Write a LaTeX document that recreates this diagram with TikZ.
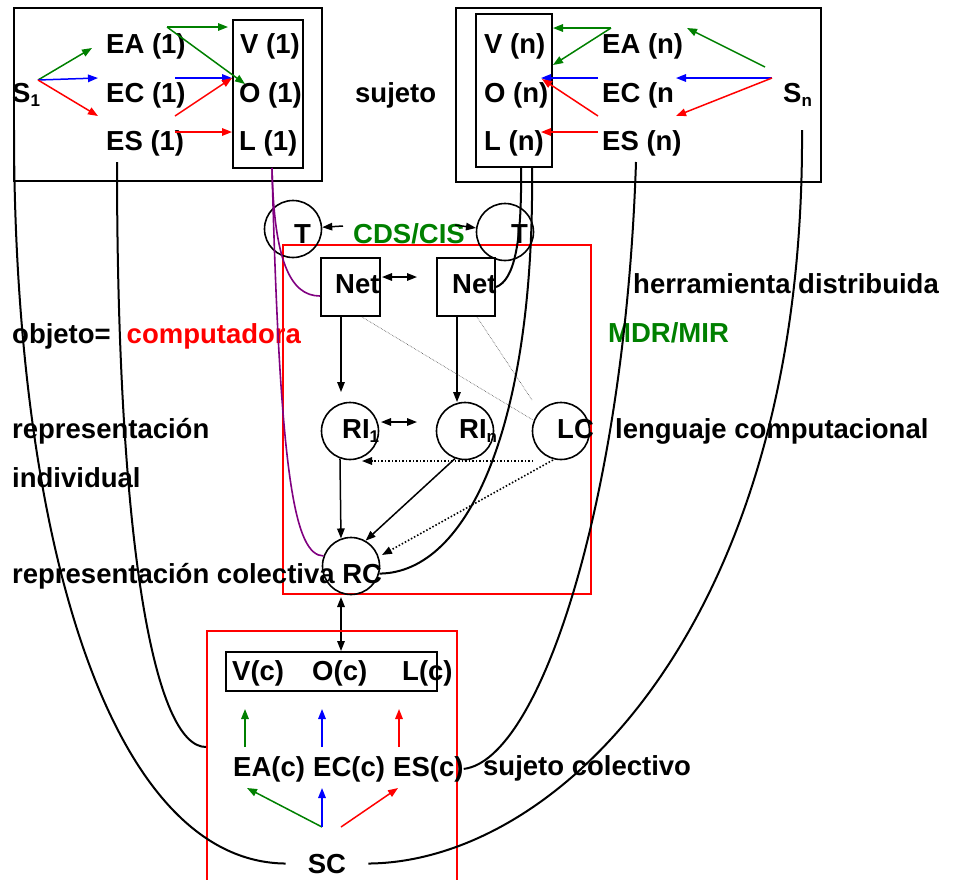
\documentclass[tikz,border=0pt]{standalone}
\usepackage{fontspec}
\setmainfont{Liberation Sans}
\usetikzlibrary{arrows.meta}
\definecolor{vgreen}{RGB}{0,128,0}
\definecolor{vpurple}{RGB}{128,0,128}
\newcommand{\lowidx}[1]{\raisebox{-4pt}{\fontsize{17}{17}\selectfont #1}}

\begin{document}
\begin{tikzpicture}[x=1pt,y=-1pt,
  txt/.style={font=\bfseries\fontsize{27.5}{30}\selectfont,inner sep=0pt,anchor=base west},
  box/.style={draw,line width=2pt,inner sep=0pt},
  rbox/.style={draw=red,line width=2.6pt},
  ring/.style={circle,draw,line width=1.6pt,minimum size=57pt,inner sep=0pt},
  a/.style={-{Triangle[length=10pt,width=7.5pt]},line width=1.5pt},
  aa/.style={{Triangle[length=10pt,width=7.5pt]}-{Triangle[length=10pt,width=7.5pt]},line width=1.6pt},
  da/.style={a,dotted,line width=1.6pt},
  hint/.style={densely dotted,line width=0.6pt,black!70},
  link/.style={line width=2pt},
  plink/.style={line width=1.6pt,vpurple}
]
\useasboundingbox (0,0) rectangle (953,879);

% subject 1
\node[box,minimum width=308pt,minimum height=173pt] (subj1) at (168,94.5) {};
\node[box,minimum width=70pt,minimum height=148pt] (vol1) at (268,94) {};
\node[txt] (s1) at (12,102) {S\lowidx{1}};
\node[txt] (ea1) at (106,53) {EA (1)};
\node[txt] (ec1) at (106,102) {EC (1)};
\node[txt] (es1) at (106,150) {ES (1)};
\node[txt] (v1) at (240,53) {V (1)};
\node[txt] (o1) at (239,102) {O (1)};
\node[txt] (l1) at (239,150) {L (1)};
\node[txt] (suj) at (355,102) {sujeto};

% subject n
\node[box,minimum width=365pt,minimum height=174pt] (subjn) at (638.5,95) {};
\node[box,minimum width=76pt,minimum height=153pt] (voln) at (514,90.5) {};
\node[txt] (vn) at (484,53) {V (n)};
\node[txt] (on) at (484,102) {O (n)};
\node[txt] (ln) at (484,150) {L (n)};
\node[txt] (ean) at (602,53) {EA (n)};
\node[txt] (ecn) at (602,102) {EC (n};
\node[txt] (esn) at (602,150) {ES (n)};
\node[txt] (sn) at (783,102) {S\lowidx{n}};

% arrow ends
\foreach \p/\x/\y in {s1o/38/80, ea1a/92/48, ec1a/98/78, es1a/98/116,
    ea1o/167/27, ec1o/175/78, es1o/175/116, es1p/175/132,
    v1a/228/27, o1a/245/84, o1b/232/78, l1a/232/132,
    eano/611/28, vna/553/28, vnb/553/65, ecno/598/78, ona/541/78,
    esno/598/116, onb/542/79, esnp/598/132, lna/541/132,
    sng/765/67, sno/772/78, eana/687/28, ecna/676/78, esna/676/116,
    cdsl/343/226, cdsr/455/225, netx/382/277, nety/417/277,
    nla/341/392, nra/457/402, rix/381/422, riy/417/422,
    lcd/533/461, ria/362/461, lce/553/460, rcb/382/555,
    ndl/362/317, lcu/533/420, ndr/477/317, lcv/532/400,
    rca/341/597, cba/341/651,
    eau/245/747, vcd/245/709, ecu/322/747, ocd/322/709, esu/399/747, lcd2/399/709,
    scg/322/827, scr/341/827, eacb/247/788, ecb/322/788, esb/398/788,
    s1d/14/130, es1d/117/162, l1d/272/168, ln1/521/167, ln2/532/167,
    esnd/636/162, snd/802/130, frl/206/747}
  \coordinate (\p) at (\x,\y);

\draw[a,vgreen] (s1o) -- (ea1a);
\draw[a,blue] (s1o) -- (ec1a);
\draw[a,red] (s1o) -- (es1a);
\draw[a,vgreen] (ea1o) -- (v1a);
\draw[a,vgreen] (ea1o) -- (o1a);
\draw[a,blue] (ec1o) -- (o1b);
\draw[a,red] (es1o) -- (o1b);
\draw[a,red] (es1p) -- (l1a);

\draw[a,vgreen] (eano) -- (vna);
\draw[a,vgreen] (eano) -- (vnb);
\draw[a,blue] (ecno) -- (ona);
\draw[a,red] (esno) -- (onb);
\draw[a,red] (esnp) -- (lna);
\draw[a,vgreen] (sng) -- (eana);
\draw[a,blue] (sno) -- (ecna);
\draw[a,red] (sno) -- (esna);

% tools and computer
\draw[rbox] (283,245) rectangle (591,594);
\node[ring] (tl) at (293,229) {};
\node[ring] (tr) at (505,232) {};
\node[txt,anchor=base] (tlt) at (302.5,243) {T};
\node[txt,anchor=base] (trt) at (519.5,243) {T};
\node[txt,text=vgreen] (cds) at (353,243) {CDS/CIS};
\draw[a] (cdsl) -- (tl);
\draw[a] (cdsr) -- (tr);

\node[box,minimum width=59pt,minimum height=58pt] (netl) at (350.5,287) {};
\node[box,minimum width=58pt,minimum height=58pt] (netr) at (466,287) {};
\node[txt] (netlt) at (335,293) {Net};
\node[txt] (netrt) at (452,293) {Net};
\draw[aa] (netx) -- (nety);

\node[ring] (ril) at (350,431) {};
\node[ring] (rin) at (465,431) {};
\node[ring] (lc) at (561,431) {};
\node[ring] (rc) at (351,566) {};
\node[txt] (rilt) at (342,438) {RI\lowidx{1}};
\node[txt] (rint) at (459,438) {RI\lowidx{n}};
\node[txt] (lct) at (557,438) {LC};

\draw[a] (nla |- netl.south) -- (nla);
\draw[a] (nra |- netr.south) -- (nra);
\draw[hint] (ndl) -- (lcu);
\draw[hint] (ndr) -- (lcv);
\draw[aa] (rix) -- (riy);
\draw[da] (lcd) -- (ria);
\draw[da] (lce) -- (rcb);
\draw[a] (ril.250) -- (rc.110);
\draw[a] (rin.250) -- (rc.60);
\draw[aa] (rca) -- (cba);

% side labels
\node[txt] (obj) at (12,343) {objeto=\hspace{16pt}\textcolor{red}{computadora}};
\node[txt] (rep) at (12,438) {representación};
\node[txt] (ind) at (12,487) {individual};
\node[txt] (repc) at (12,583) {representación colectiva RC};
\node[txt] (herr) at (633,293) {herramienta distribuida};
\node[txt,text=vgreen] (mdr) at (608,342) {MDR/MIR};
\node[txt] (leng) at (615,438) {lenguaje computacional};

% collective subject
\draw[rbox] (207,885) |- (457,631) -- (457,885);
\node[box,minimum width=211pt,minimum height=39pt] (colbox) at (331.5,671.5) {};
\node[txt] (vc) at (232,680) {V(c)};
\node[txt] (oc) at (312,680) {O(c)};
\node[txt] (lc2) at (402,680) {L(c)};
\node[txt] (eac) at (233,776) {EA(c)};
\node[txt] (ecc) at (313,776) {EC(c)};
\node[txt] (esc) at (393,776) {ES(c)};
\node[txt] (sujc) at (483,775) {sujeto colectivo};
\node[txt,anchor=base,inner xsep=22pt] (sc) at (327,873) {SC};

\draw[a,vgreen] (eau) -- (vcd);
\draw[a,blue] (ecu) -- (ocd);
\draw[a,red] (esu) -- (lcd2);
\draw[a,vgreen] (scg) -- (eacb);
\draw[a,blue] (scg) -- (ecb);
\draw[a,red] (scr) -- (esb);

% links between levels
\draw[link] (s1d) .. controls (14,540) and (110,862) .. (sc.west);
\draw[link] (es1d) .. controls (117,550) and (155,747) .. (frl);
\draw[plink] (l1d) .. controls (274,260) and (290,296) .. ([yshift=-9pt]netl.west);
\draw[plink] (l1d) .. controls (280,480) and (295,555) .. (rc.160);
\draw[link] (ln1) .. controls (522,240) and (515,280) .. (netr.east);
\draw[link] (ln2) .. controls (535,420) and (470,573) .. (rc.-15);
\draw[link] (esnd) .. controls (625,500) and (540,760) .. (esc.east);
\draw[link] (snd) .. controls (805,620) and (560,862) .. (sc.east);
\end{tikzpicture}
\end{document}
